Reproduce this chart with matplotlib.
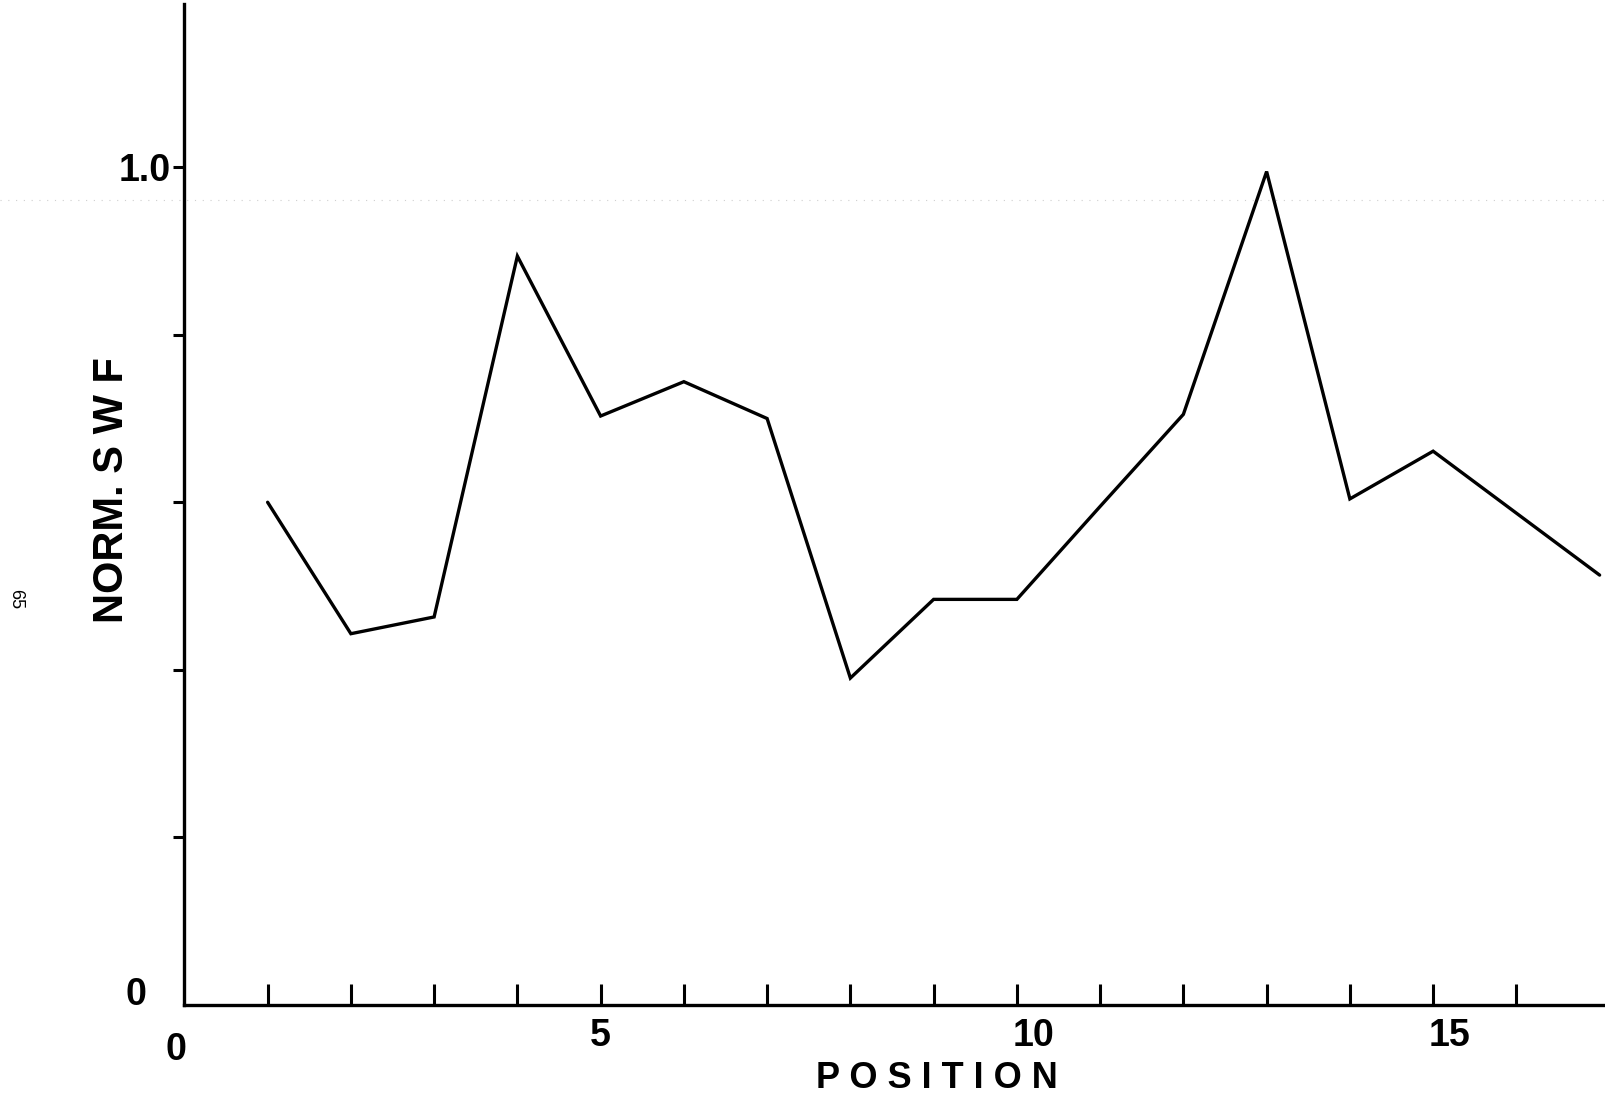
import matplotlib
matplotlib.use('Agg')
import matplotlib.pyplot as plt

# normalized SWF per position
positions = [1, 2, 3, 4, 5, 6, 7, 8, 9, 10, 11, 12, 13, 14, 15, 16, 17]
norm_swf = [0.600, 0.443, 0.463, 0.894, 0.703, 0.744, 0.700, 0.390, 0.484,
            0.484, 0.595, 0.705, 0.995, 0.604, 0.661, 0.587, 0.513]

x_tick_marks = list(range(1, 17))
x_tick_labels = ['0', '5', '10', '15']
x_tick_label_pos = [-0.1, 5.0, 10.2, 15.2]
y_tick_marks = [0.2, 0.4, 0.6, 0.8, 1.0]

plt.rcParams['font.family'] = ['Liberation Sans', 'DejaVu Sans']

fig = plt.figure(figsize=(16.06, 11.07), dpi=100)
ax = fig.add_axes([0.1148, 0.0925, 0.8833, 0.9038])

ax.plot(positions, norm_swf, color='black', linewidth=2.4,
        solid_joinstyle='miter', solid_capstyle='round')

ax.set_xlim(0, 17.04)
ax.set_ylim(0, 1.195)

for side in ['top', 'right']:
    ax.spines[side].set_visible(False)
for side in ['left', 'bottom']:
    ax.spines[side].set_linewidth(2.4)

# x: short upward ticks, labels drawn by hand below
ax.set_xticks(x_tick_marks)
ax.set_xticklabels([])
ax.tick_params(axis='x', direction='in', length=15, width=2.2)

# y: outward ticks, only 1.0 labelled
ax.set_yticks(y_tick_marks)
ax.set_yticklabels(['', '', '', '', '1.0'], fontsize=27, fontweight='bold')
ax.tick_params(axis='y', direction='out', length=8, width=2.2, pad=2)

for lab, xp in zip(x_tick_labels, x_tick_label_pos):
    yp = -0.054 if lab == '0' else -0.038
    ax.text(xp, yp, lab, ha='center', va='center', fontsize=27,
            fontweight='bold', clip_on=False)
ax.text(-0.58, 0.011, '0', ha='center', va='center', fontsize=27,
        fontweight='bold', clip_on=False)

fig.text(0.5835, 0.026, 'P O S I T I O N', ha='center', va='center',
         fontsize=26, fontweight='bold')
fig.text(0.0695, 0.557, 'NORM. S W F', ha='center', va='center',
         rotation=90, fontsize=30, fontweight='bold')
fig.text(0.0096, 0.459, '65', ha='center', va='center', rotation=-90,
         fontsize=13)

# faint dotted line across the sheet
fig.add_artist(plt.Line2D([0, 1], [0.8196, 0.8196], transform=fig.transFigure,
                          color='#cfcfcf', linewidth=0.8, linestyle=(0, (1, 6))))

fig.savefig('out.png', dpi=100)
